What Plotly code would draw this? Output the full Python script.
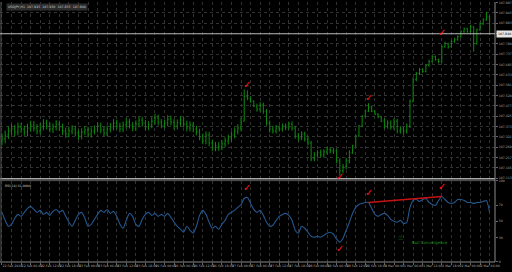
import plotly.graph_objects as go

# ---------------- data (USDJPY H1 bars) ----------------
opens = [
    107.300, 107.310, 107.330, 107.350, 107.360, 107.345, 107.370, 107.360, 107.345, 107.365,
    107.380, 107.365, 107.350, 107.370, 107.390, 107.375, 107.360, 107.370, 107.385, 107.370,
    107.350, 107.335, 107.350, 107.360, 107.340, 107.325, 107.345, 107.355, 107.335, 107.350,
    107.360, 107.375, 107.355, 107.340, 107.360, 107.370, 107.390, 107.375, 107.360, 107.380,
    107.395, 107.380, 107.365, 107.385, 107.405, 107.390, 107.370, 107.380, 107.400, 107.415,
    107.395, 107.380, 107.390, 107.410, 107.395, 107.375, 107.390, 107.405, 107.385, 107.365,
    107.380, 107.360, 107.345, 107.320, 107.300, 107.330, 107.290, 107.265, 107.275, 107.270,
    107.285, 107.300, 107.315, 107.330, 107.350, 107.365, 107.400, 107.525, 107.515, 107.500,
    107.475, 107.460, 107.480, 107.450, 107.390, 107.360, 107.350, 107.365, 107.360, 107.375,
    107.370, 107.385, 107.365, 107.325, 107.315, 107.335, 107.310, 107.290, 107.210, 107.230,
    107.240, 107.230, 107.245, 107.255, 107.250, 107.250, 107.200, 107.150, 107.170, 107.200,
    107.240, 107.275, 107.325, 107.375, 107.425, 107.450, 107.470, 107.450, 107.435, 107.420,
    107.400, 107.375, 107.390, 107.370, 107.400, 107.350, 107.360, 107.350, 107.375, 107.500,
    107.610, 107.640, 107.660, 107.650, 107.680, 107.700, 107.725, 107.710, 107.700, 107.775,
    107.790, 107.775, 107.800, 107.810, 107.825, 107.850, 107.865, 107.850, 107.875, 107.790,
    107.860, 107.890, 107.910, 107.925,
]
highs = [
    107.337, 107.352, 107.372, 107.384, 107.380, 107.392, 107.390, 107.377, 107.387, 107.402,
    107.400, 107.384, 107.390, 107.410, 107.407, 107.394, 107.388, 107.404, 107.402, 107.387,
    107.367, 107.370, 107.380, 107.377, 107.357, 107.364, 107.374, 107.372, 107.368, 107.378,
    107.394, 107.392, 107.372, 107.378, 107.390, 107.410, 107.407, 107.392, 107.398, 107.414,
    107.412, 107.396, 107.404, 107.424, 107.422, 107.406, 107.400, 107.420, 107.437, 107.432,
    107.410, 107.408, 107.430, 107.427, 107.410, 107.408, 107.424, 107.420, 107.402, 107.398,
    107.396, 107.376, 107.362, 107.337, 107.348, 107.346, 107.307, 107.294, 107.294, 107.304,
    107.318, 107.332, 107.348, 107.368, 107.384, 107.417, 107.560, 107.555, 107.525, 107.505,
    107.488, 107.496, 107.493, 107.460, 107.403, 107.376, 107.380, 107.378, 107.388, 107.388,
    107.398, 107.398, 107.376, 107.340, 107.348, 107.346, 107.323, 107.300, 107.244, 107.253,
    107.256, 107.258, 107.270, 107.268, 107.266, 107.260, 107.213, 107.184, 107.213, 107.253,
    107.280, 107.330, 107.380, 107.430, 107.458, 107.490, 107.478, 107.455, 107.440, 107.425,
    107.413, 107.404, 107.403, 107.413, 107.412, 107.374, 107.372, 107.388, 107.510, 107.620,
    107.648, 107.668, 107.666, 107.688, 107.710, 107.732, 107.730, 107.715, 107.780, 107.800,
    107.795, 107.808, 107.820, 107.832, 107.858, 107.872, 107.870, 107.885, 107.878, 107.866,
    107.898, 107.918, 107.950, 107.930,
]
lows = [
    107.278, 107.288, 107.310, 107.330, 107.323, 107.328, 107.340, 107.326, 107.323, 107.346,
    107.348, 107.333, 107.333, 107.353, 107.358, 107.343, 107.340, 107.353, 107.350, 107.330,
    107.316, 107.318, 107.333, 107.323, 107.306, 107.308, 107.328, 107.318, 107.318, 107.333,
    107.343, 107.338, 107.323, 107.324, 107.343, 107.353, 107.358, 107.343, 107.344, 107.363,
    107.363, 107.348, 107.350, 107.368, 107.373, 107.353, 107.354, 107.364, 107.383, 107.378,
    107.364, 107.363, 107.374, 107.378, 107.358, 107.358, 107.374, 107.368, 107.348, 107.348,
    107.343, 107.328, 107.303, 107.283, 107.283, 107.273, 107.248, 107.248, 107.250, 107.253,
    107.268, 107.283, 107.298, 107.313, 107.333, 107.348, 107.398, 107.505, 107.492, 107.470,
    107.447, 107.447, 107.437, 107.377, 107.342, 107.337, 107.337, 107.347, 107.347, 107.354,
    107.357, 107.352, 107.312, 107.300, 107.304, 107.297, 107.277, 107.197, 107.197, 107.217,
    107.217, 107.217, 107.232, 107.237, 107.234, 107.187, 107.125, 107.137, 107.157, 107.187,
    107.235, 107.270, 107.320, 107.370, 107.420, 107.445, 107.445, 107.430, 107.415, 107.395,
    107.362, 107.362, 107.357, 107.357, 107.337, 107.337, 107.332, 107.337, 107.365, 107.495,
    107.600, 107.632, 107.642, 107.645, 107.675, 107.695, 107.705, 107.690, 107.695, 107.770,
    107.765, 107.770, 107.795, 107.805, 107.820, 107.845, 107.845, 107.845, 107.750, 107.785,
    107.855, 107.885, 107.905, 107.835,
]
closes = [
    107.310, 107.330, 107.350, 107.360, 107.345, 107.370, 107.360, 107.345, 107.365, 107.380,
    107.365, 107.350, 107.370, 107.390, 107.375, 107.360, 107.370, 107.385, 107.370, 107.350,
    107.335, 107.350, 107.360, 107.340, 107.325, 107.345, 107.355, 107.335, 107.350, 107.360,
    107.375, 107.355, 107.340, 107.360, 107.370, 107.390, 107.375, 107.360, 107.380, 107.395,
    107.380, 107.365, 107.385, 107.405, 107.390, 107.370, 107.380, 107.400, 107.415, 107.395,
    107.380, 107.390, 107.410, 107.395, 107.375, 107.390, 107.405, 107.385, 107.365, 107.380,
    107.360, 107.345, 107.320, 107.300, 107.330, 107.290, 107.265, 107.275, 107.270, 107.285,
    107.300, 107.315, 107.330, 107.350, 107.365, 107.400, 107.525, 107.515, 107.500, 107.475,
    107.460, 107.480, 107.450, 107.390, 107.360, 107.350, 107.365, 107.360, 107.375, 107.370,
    107.385, 107.365, 107.325, 107.315, 107.335, 107.310, 107.290, 107.210, 107.230, 107.240,
    107.230, 107.245, 107.255, 107.250, 107.250, 107.200, 107.150, 107.170, 107.200, 107.240,
    107.275, 107.325, 107.375, 107.425, 107.450, 107.470, 107.450, 107.435, 107.420, 107.400,
    107.375, 107.390, 107.370, 107.400, 107.350, 107.360, 107.350, 107.375, 107.500, 107.610,
    107.640, 107.660, 107.650, 107.680, 107.700, 107.725, 107.710, 107.700, 107.775, 107.790,
    107.775, 107.800, 107.810, 107.825, 107.850, 107.865, 107.850, 107.875, 107.790, 107.860,
    107.890, 107.910, 107.925, 107.840,
]
rsi = [
    61.0, 51.2, 43.9, 46.3, 53.7, 58.5, 56.1, 61.0, 65.9, 68.3,
    64.6, 61.0, 63.4, 58.5, 61.0, 57.3, 62.2, 64.6, 61.0, 63.4,
    56.1, 48.8, 43.9, 51.2, 58.5, 61.0, 53.7, 43.9, 46.3, 52.4,
    58.5, 63.4, 61.0, 64.6, 59.8, 62.2, 56.1, 46.3, 41.5, 51.2,
    59.8, 56.1, 46.3, 43.9, 52.4, 58.5, 61.0, 57.3, 59.8, 56.1,
    58.5, 56.1, 59.8, 54.9, 48.8, 43.9, 40.2, 36.6, 43.9, 39.0,
    35.4, 43.9, 57.3, 63.4, 58.5, 48.8, 41.5, 43.9, 40.2, 46.3,
    51.2, 58.5, 61.0, 63.4, 67.1, 70.7, 78.0, 79.3, 72.0, 64.6,
    61.0, 63.4, 57.3, 48.8, 43.9, 45.1, 51.2, 56.1, 58.5, 59.8,
    57.3, 51.2, 39.0, 35.4, 43.9, 41.5, 36.6, 31.7, 30.5, 31.7,
    30.5, 32.9, 35.4, 36.6, 34.1, 28.0, 24.4, 29.3, 39.0, 48.8,
    59.8, 67.1, 70.7, 72.0, 73.2, 73.2, 65.9, 58.5, 56.1, 58.5,
    59.8, 57.3, 52.4, 50.0, 48.8, 51.2, 47.6, 48.8, 67.1, 75.6,
    76.8, 74.4, 76.8, 78.0, 73.2, 70.7, 69.5, 75.6, 80.5, 76.8,
    73.2, 72.0, 73.2, 76.8, 76.8, 75.6, 73.2, 73.2, 72.0, 73.2,
    73.2, 74.4, 75.6, 61.0,
]
date_labels = [
    "22 Feb 2018", "22 Feb 06:00", "22 Feb 12:00", "22 Feb 18:00",
    "23 Feb 00:00", "23 Feb 06:00", "23 Feb 12:00", "23 Feb 18:00",
    "26 Feb 00:00", "26 Feb 06:00", "26 Feb 12:00", "26 Feb 18:00",
    "27 Feb 00:00", "27 Feb 06:00", "27 Feb 12:00", "27 Feb 18:00",
    "28 Feb 00:00", "28 Feb 06:00", "28 Feb 12:00", "28 Feb 18:00",
    "1 Mar 00:00", "1 Mar 06:00", "1 Mar 12:00", "1 Mar 18:00",
    "2 Mar 00:00", "2 Mar 06:00",
]
price_labels = [
    "107.997", "107.945", "107.893", "107.841", "107.789", "107.737",
    "107.685", "107.633", "107.581", "107.529", "107.477", "107.425",
    "107.373", "107.321", "107.269", "107.217", "107.165", "107.113",
]
rsi_levels = [100, 70, 50, 30, 0]
symbol = "USDJPY,H1"
rsi_name = "RSI(14)"
note_text = "Bull Convergence"
peak_bars = [77, 115, 138]      # check marks above
trough_bars = [106]             # check marks below
div_bars = [115, 138]           # RSI trend line

bars = list(range(len(closes)))

# ---------------- styling ----------------
BG = "#000000"
GREEN = "#0e8a0e"
RSI_BLUE = "#24578f"
RED = "#ff1a1a"
GRID = "#333333"
TXT = "#a8a8a8"
FONT = "DejaVu Sans"
FS = 3.2

W, H = 512, 272
ML, MR, MT, MB = 0, 15, 0, 10
plot_h = H - MT - MB
price_dom = [1 - 178 / plot_h, 1]
rsi_dom = [0, (plot_h - 180) / plot_h]
x_range = [-0.625, 154.69]

fig = go.Figure()
fig.add_trace(go.Ohlc(
    x=bars, open=opens, high=highs, low=lows, close=closes,
    increasing=dict(line=dict(color=GREEN, width=1)),
    decreasing=dict(line=dict(color=GREEN, width=1)),
    tickwidth=0.3, xaxis="x", yaxis="y", hoverinfo="skip", showlegend=False))
fig.add_trace(go.Scatter(
    x=bars, y=rsi, mode="lines", line=dict(color=RSI_BLUE, width=1.1, shape="spline", smoothing=0.6),
    xaxis="x2", yaxis="y2", hoverinfo="skip", showlegend=False))
fig.add_trace(go.Scatter(
    x=[bars[i] for i in div_bars], y=[rsi[i] for i in div_bars], mode="lines",
    line=dict(color="#c81212", width=1.6), xaxis="x2", yaxis="y2",
    hoverinfo="skip", showlegend=False))

tickvals_x = list(range(0, len(bars), 3))
ticktext_x = [date_labels[k // 2] if k % 2 == 0 and k // 2 < len(date_labels) else ""
              for k in range(len(tickvals_x))]

xcommon = dict(range=x_range, showgrid=True, gridcolor=GRID, griddash="dot", gridwidth=1,
               zeroline=False, showline=False, tickmode="array", tickvals=tickvals_x)

fig.update_layout(
    width=W, height=H, margin=dict(l=ML, r=MR, t=MT, b=MB),
    paper_bgcolor=BG, plot_bgcolor=BG, showlegend=False,
    font=dict(family=FONT, color=TXT, size=FS),
    xaxis=dict(**xcommon, anchor="y", domain=[0, 1], showticklabels=False, ticks="",
               rangeslider=dict(visible=False)),
    xaxis2=dict(**xcommon, anchor="y2", domain=[0, 1], ticktext=ticktext_x,
                ticks="outside", ticklen=2, tickcolor="#666666", tickangle=0,
                ticklabelposition="outside right",
                tickfont=dict(size=FS, color=TXT, family=FONT)),
    yaxis=dict(domain=price_dom, range=[107.11, 108.0], side="right", anchor="x",
               tickmode="array", tickvals=[float(s) for s in price_labels], ticktext=price_labels,
               showgrid=True, gridcolor=GRID, griddash="dot", zeroline=False,
               ticks="outside", ticklen=2, tickcolor="#666666",
               tickfont=dict(size=FS, color=TXT, family=FONT)),
    yaxis2=dict(domain=rsi_dom, range=[0, 100], side="right", anchor="x2",
                tickmode="array", tickvals=rsi_levels, ticktext=[str(v) for v in rsi_levels],
                showgrid=False, zeroline=False,
                ticks="outside", ticklen=2, tickcolor="#666666",
                tickfont=dict(size=FS, color=TXT, family=FONT)),
)

shapes = []
shapes.append(dict(type="line", xref="paper", yref="paper", x0=0, x1=1,
                   y0=price_dom[0], y1=price_dom[0], line=dict(color="#a8a8a8", width=1.5)))
shapes.append(dict(type="line", xref="paper", yref="paper", x0=0, x1=1,
                   y0=rsi_dom[1], y1=rsi_dom[1], line=dict(color="#555555", width=1)))
shapes.append(dict(type="line", xref="paper", yref="paper", x0=1, x1=1,
                   y0=0, y1=1, line=dict(color="#8a8a8a", width=1)))
shapes.append(dict(type="line", xref="paper", yref="paper", x0=0, x1=1,
                   y0=0, y1=0, line=dict(color="#8a8a8a", width=1)))
shapes.append(dict(type="line", xref="paper", yref="paper", x0=0.002, x1=0.002,
                   y0=0, y1=1, line=dict(color="#555555", width=1)))
shapes.append(dict(type="line", xref="paper", yref="y", x0=0, x1=1,
                   y0=closes[-1], y1=closes[-1], line=dict(color="#b4b4b4", width=1)))
fig.update_layout(shapes=shapes)

ann = []
ann.append(dict(xref="paper", yref="paper", x=0.012, y=1, xanchor="left", yanchor="top",
                yshift=-1, showarrow=False,
                text=f"{symbol}  {opens[-1]:.3f}  {highs[-1]:.3f}  {lows[-1]:.3f}  {closes[-1]:.3f}",
                font=dict(size=FS, color="#d0d0d0", family=FONT), bgcolor="#2c2c2c"))
ann.append(dict(xref="paper", yref="paper", x=0.006, y=rsi_dom[1], xanchor="left", yanchor="top",
                yshift=-1, showarrow=False, text=f"{rsi_name} {rsi[-1]:.4f}",
                font=dict(size=FS, color="#d0d0d0", family=FONT)))
ann.append(dict(xref="paper", yref="y", x=1, y=closes[-1], xanchor="left", yanchor="middle",
                xshift=1, showarrow=False, text=f"{closes[-1]:.3f}",
                font=dict(size=FS, color="#000000", family=FONT), bgcolor="#e6e6e6"))

CHECK = "\u2713"
for b in peak_bars:
    ann.append(dict(xref="x", yref="y", x=b, y=highs[b], xanchor="center", yanchor="bottom",
                    yshift=-2 if b != 138 else 6, showarrow=False, text=CHECK,
                    font=dict(size=10, color=RED, family=FONT)))
    ann.append(dict(xref="x2", yref="y2", x=b, y=rsi[b], xanchor="center", yanchor="bottom",
                    yshift=2, showarrow=False, text=CHECK,
                    font=dict(size=10, color=RED, family=FONT)))
for b in trough_bars:
    ann.append(dict(xref="x", yref="y", x=b, y=lows[b], xanchor="center", yanchor="middle",
                    yshift=-1, showarrow=False, text=CHECK,
                    font=dict(size=10, color=RED, family=FONT)))
    ann.append(dict(xref="x2", yref="y2", x=b, y=rsi[b], xanchor="center", yanchor="top",
                    yshift=1, showarrow=False, text=CHECK,
                    font=dict(size=10, color=RED, family=FONT)))

ann.append(dict(xref="x2", yref="y2", x=125, y=30, xanchor="center", yanchor="middle",
                showarrow=False, text="\u261D", font=dict(size=8, color="#1f9a1f", family=FONT)))
ann.append(dict(xref="x2", yref="y2", x=128, y=24, xanchor="left", yanchor="middle",
                showarrow=False, text=note_text, font=dict(size=4, color="#1f9a1f", family=FONT)))
fig.update_layout(annotations=ann)

fig.write_html("out.html")
